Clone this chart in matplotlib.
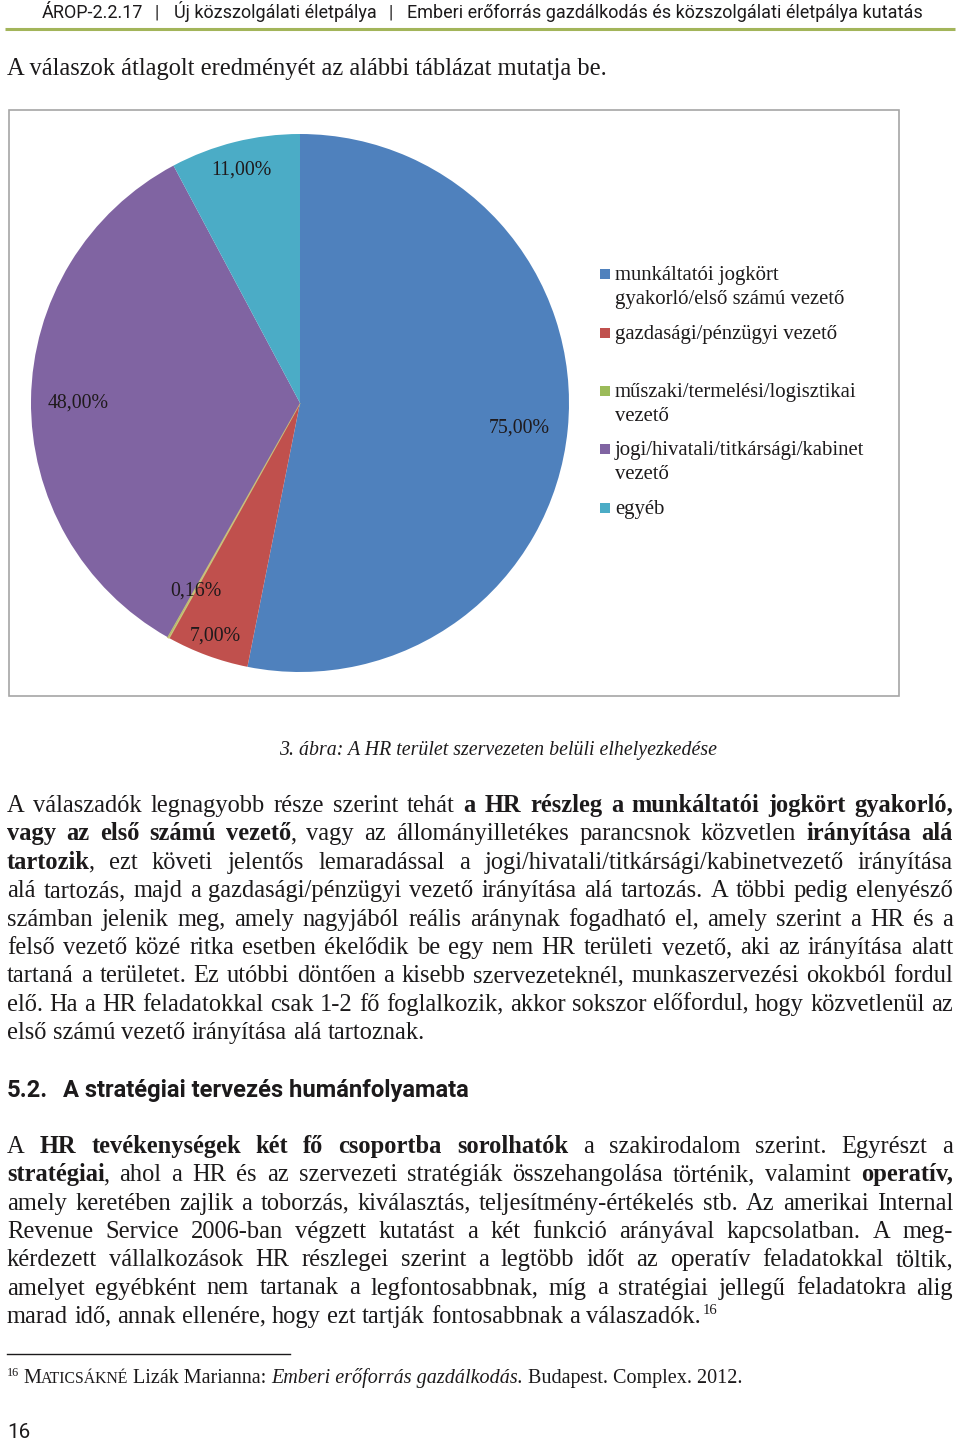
import math
import matplotlib
matplotlib.use('Agg')
import matplotlib.pyplot as plt
from matplotlib.patches import Rectangle

# ---------------- data ----------------
categories = [
    "munkáltatói jogkört\ngyakorló/első számú vezető",
    "gazdasági/pénzügyi vezető",
    "műszaki/termelési/logisztikai\nvezető",
    "jogi/hivatali/titkársági/kabinet\nvezető",
    "egyéb",
]
values = [75.0, 7.0, 0.16, 48.0, 11.0]
value_labels = ["75,00%", "7,00%", "0,16%", "48,00%", "11,00%"]

header_parts = ["ÁROP-2.2.17", "Új közszolgálati életpálya",
                "Emberi erőforrás gazdálkodás és közszolgálati életpálya kutatás"]
intro_text = "A válaszok átlagolt eredményét az alábbi táblázat mutatja be."
caption_text = "3. ábra: A HR terület szervezeten belüli elhelyezkedése"
para1_lines = [
    "A válaszadók legnagyobb része szerint tehát **a HR részleg a munkáltatói jogkört gyakorló,**",
    "**vagy az első számú vezető**, vagy az állományilletékes parancsnok közvetlen **irányítása alá**",
    "**tartozik**, ezt követi jelentős lemaradással a jogi/hivatali/titkársági/kabinetvezető irányítása",
    "alá tartozás, majd a gazdasági/pénzügyi vezető irányítása alá tartozás. A többi pedig elenyésző",
    "számban jelenik meg, amely nagyjából reális aránynak fogadható el, amely szerint a HR és a",
    "felső vezető közé ritka esetben ékelődik be egy nem HR területi vezető, aki az irányítása alatt",
    "tartaná a területet. Ez utóbbi döntően a kisebb szervezeteknél, munkaszervezési okokból fordul",
    "elő. Ha a HR feladatokkal csak 1-2 fő foglalkozik, akkor sokszor előfordul, hogy közvetlenül az",
    "első számú vezető irányítása alá tartoznak.",
]
section_num = "5.2."
section_title = "A stratégiai tervezés humánfolyamata"
para2_lines = [
    "A **HR tevékenységek két fő csoportba sorolhatók** a szakirodalom szerint. Egyrészt a",
    "**stratégiai**, ahol a HR és az szervezeti stratégiák összehangolása történik, valamint **operatív,**",
    "amely keretében zajlik a toborzás, kiválasztás, teljesítmény-értékelés stb. Az amerikai Internal",
    "Revenue Service 2006-ban végzett kutatást a két funkció arányával kapcsolatban. A meg-",
    "kérdezett vállalkozások HR részlegei szerint a legtöbb időt az operatív feladatokkal töltik,",
    "amelyet egyébként nem tartanak a legfontosabbnak, míg a stratégiai jellegű feladatokra alig",
    "marad idő, annak ellenére, hogy ezt tartják fontosabbnak a válaszadók.",
]
footnote_mark = "16"
page_number = "16"

# ---------------- style ----------------
colors = ["#4F81BD", "#C0504D", "#9BBB59", "#8064A2", "#4BACC6"]
label_r = [0.82, 0.91, 0.79, 0.825, 0.905]
SERIF = "Liberation Serif"
SANS = "Roboto"
INK = "#1c1a1b"

W, H = 960, 1442
fig = plt.figure(figsize=(W / 100, H / 100), dpi=100)
page = fig.add_axes([0, 0, 1, 1])
page.set_xlim(0, W)
page.set_ylim(H, 0)
page.axis("off")
renderer = fig.canvas.get_renderer()


def width(s, size, **kw):
    t = page.text(0, 0, s, fontsize=size, **kw)
    w = t.get_window_extent(renderer).width
    t.remove()
    return w


def advance(s, size, **kw):
    return width(s + "n", size, **kw) - width("n", size, **kw)


def fit(s, target, **kw):
    return 20.0 * target / width(s, 20.0, **kw)


# ---------------- header ----------------
hs = fit(header_parts[2], 513, family=SANS)
page.text(42, 18, header_parts[0], fontsize=hs, family=SANS, color=INK, va="baseline")
page.text(157, 18, "|", fontsize=hs, family=SANS, color=INK, va="baseline", ha="center")
page.text(174, 18, header_parts[1], fontsize=hs, family=SANS, color=INK, va="baseline")
page.text(391, 18, "|", fontsize=hs, family=SANS, color=INK, va="baseline", ha="center")
page.text(407, 18, header_parts[2], fontsize=hs, family=SANS, color=INK, va="baseline")
page.plot([5, 955], [28.5, 28.5], color="#a3b55a", lw=2.2, solid_capstyle="butt")

# ---------------- intro ----------------
body = fit(intro_text, 601, family=SERIF)
page.text(7, 75, intro_text, fontsize=body, family=SERIF, color=INK, va="baseline")

# ---------------- chart frame ----------------
page.add_patch(Rectangle((9, 110), 890, 586, fill=False, edgecolor="#a6a6a6", lw=1.2))

# ---------------- pie ----------------
cx, cy, R = 300, 403, 269
ax = fig.add_axes([(cx - R) / W, 1 - (cy + R) / H, 2 * R / W, 2 * R / H])
wedges, _ = ax.pie(values, colors=colors, startangle=90, counterclock=False,
                   wedgeprops=dict(linewidth=0))
wedges[2].set_edgecolor("#c9c07a")
wedges[2].set_linewidth(1.0)
ax.set_xlim(-1, 1)
ax.set_ylim(-1, 1)
ax.set_aspect("equal")
ax.patch.set_alpha(0)

ls = fit(value_labels[0], 61, family=SERIF)
for wdg, lab, r in zip(wedges, value_labels, label_r):
    mid = math.radians((wdg.theta1 + wdg.theta2) / 2)
    ax.text(cx + r * R * math.cos(mid), cy - r * R * math.sin(mid) + 3, lab,
            transform=page.transData, fontsize=ls, family=SERIF, color="#1f1a1c",
            ha="center", va="center", zorder=5)

# ---------------- legend ----------------
gs = fit("gazdasági/pénzügyi vezető", 223, family=SERIF)
leg_base = [280, 339, 397, 455, 514]
for cat, col, b in zip(categories, colors, leg_base):
    page.add_patch(Rectangle((600, b - 11), 10, 10, facecolor=col, edgecolor="none"))
    for k, ln in enumerate(cat.split("\n")):
        page.text(615, b + 24 * k, ln, fontsize=gs, family=SERIF, color=INK, va="baseline")

# ---------------- caption ----------------
cs = fit(caption_text, 436, family=SERIF, style="italic")
page.text(498, 755, caption_text, fontsize=cs, family=SERIF, style="italic",
          color=INK, va="baseline", ha="center")


# ---------------- justified paragraphs ----------------
def parse(line):
    parts = line.split("**")
    words = [[]]
    for i, p in enumerate(parts):
        b = (i % 2 == 1)
        if not p:
            continue
        pieces = p.split(" ")
        for j, pc in enumerate(pieces):
            if j > 0:
                words.append([])
            if pc:
                words[-1].append((pc, b))
    return [w for w in words if w]


def wkw(b):
    return dict(family=SERIF, fontweight="bold" if b else "normal")


def piece_step(t, b, size):
    adv = advance(t, size, **wkw(b))
    return adv - (1.5 if b else 0.0)


def word_width(w, size):
    tot = 0.0
    for k, (t, b) in enumerate(w):
        if k < len(w) - 1:
            tot += piece_step(t, b, size)
        else:
            tot += width(t, size, **wkw(b))
    return tot


def paragraph(lines, x0, x1, base_y, pitch, size):
    target = x1 - x0
    parsed = [parse(l) for l in lines]
    sp = width("a a", size, family=SERIF) - width("aa", size, family=SERIF)
    s = size
    for words in parsed[:-1]:
        tot = sum(word_width(w, size) for w in words) + (len(words) - 1) * 0.55 * sp
        s = min(s, size * target / tot)
    sp = sp * s / size
    last_end = None
    for li, words in enumerate(parsed):
        ws = [word_width(w, s) for w in words]
        y = base_y + li * pitch
        if li < len(parsed) - 1 and len(words) > 1:
            gap = (target - sum(ws)) / (len(words) - 1)
        else:
            gap = sp
        x = x0
        for w, ww in zip(words, ws):
            xx = x
            for t, b in w:
                page.text(xx, y, t, fontsize=s, color=INK, va="baseline", **wkw(b))
                xx += piece_step(t, b, s)
            x += ww + gap
        last_end = x - gap
    return s, last_end


s1, _ = paragraph(para1_lines, 7, 953, 812, 28.4, body)

# section heading
hsz = fit(section_title, 406, family=SANS, fontweight="bold")
page.text(7, 1097, section_num, fontsize=hsz, family=SANS, fontweight="bold", color=INK, va="baseline")
page.text(63, 1097, section_title, fontsize=hsz, family=SANS, fontweight="bold", color=INK, va="baseline")

s2, end2 = paragraph(para2_lines, 7, 953, 1153, 28.3, body)
page.text(end2 + 2, 1153 + 6 * 28.3 - 9, footnote_mark, fontsize=s2 * 0.6, family=SERIF,
          color=INK, va="baseline")

# ---------------- footnote ----------------
page.plot([7, 290], [1354, 1354], color=INK, lw=1.0)
fparts = [("M", 1.0, "normal"), ("ATICSÁKNÉ", 0.78, "normal"), (" Lizák Marianna: ", 1.0, "normal"),
          ("Emberi erőforrás gazdálkodás.", 1.0, "italic"), (" Budapest. Complex. 2012.", 1.0, "normal")]
tot20 = sum(width(t, 20 * f, family=SERIF, style=st) for t, f, st in fparts)
fs = 20 * (743 - 23) / tot20
page.text(7, 1376, footnote_mark, fontsize=fs * 0.6, family=SERIF, color=INK, va="baseline")
x = 23
for t, f, st in fparts:
    page.text(x, 1383, t, fontsize=fs * f, family=SERIF, style=st, color=INK, va="baseline")
    x += width(t, fs * f, family=SERIF, style=st)

# ---------------- page number ----------------
ps = fit(page_number, 23, family=SANS)
page.text(7, 1438, page_number, fontsize=ps, family=SANS, color=INK, va="baseline")

fig.savefig("out.png", dpi=100)
